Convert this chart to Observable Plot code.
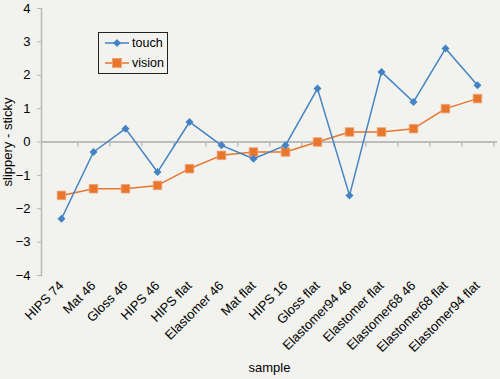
<!DOCTYPE html>
<html>
<head>
<meta charset="utf-8">
<script src="https://cdn.jsdelivr.net/npm/d3@7"></script>
<script src="https://cdn.jsdelivr.net/npm/@observablehq/plot@0.6"></script>
<style>
  html, body { margin: 0; padding: 0; background: #f2f2ee; }
  #wrap { position: relative; width: 500px; height: 379px; font-family: Arial, "Liberation Sans", sans-serif; }
  #legend { position: absolute; left: 98px; top: 32px; width: 68px; height: 40px; border: 1px solid #222; background: #f2f2ee; font-size: 12.5px; color: #000; }
  #legend .row { position: absolute; left: 6px; display: flex; align-items: center; }
  #legend svg { margin-right: 3px; }
</style>
</head>
<body>
<div id="wrap"></div>
<script>
const samples = ["HIPS 74","Mat 46","Gloss 46","HIPS 46","HIPS flat","Elastomer 46","Mat flat","HIPS 16","Gloss flat","Elastomer94 46","Elastomer flat","Elastomer68 46","Elastomer68 flat","Elastomer94 flat"];
const touch  = [-2.3,-0.3,0.4,-0.9,0.6,-0.1,-0.5,-0.1,1.6,-1.6,2.1,1.2,2.8,1.7];
const vision = [-1.6,-1.4,-1.4,-1.3,-0.8,-0.4,-0.3,-0.3,0.0,0.3,0.3,0.4,1.0,1.3];
const yTicks = [-4,-3,-2,-1,0,1,2,3,4];
const seriesNames = ["touch","vision"];
const seriesColors = ["#4383c4","#e8762d"];

const touchData = samples.map((s,i)=>({sample:s, value:touch[i]}));
const visionData = samples.map((s,i)=>({sample:s, value:vision[i]}));

const W = 500, H = 379, mL = 41, mR = 3;
const step = (W - mL - mR) / samples.length;

const chart = Plot.plot({
  width: W, height: H,
  marginLeft: mL, marginRight: mR, marginTop: 8, marginBottom: 104,
  style: {background: "transparent", fontFamily: "Arial, 'Liberation Sans', sans-serif", fontSize: "12px", color: "#000"},
  x: {type: "point", domain: samples, padding: 0.5},
  y: {domain: [-4,4]},
  marks: [
    Plot.frame({anchor: "left", stroke: "#b8b8b8", strokeWidth: 1.5}),
    Plot.ruleY([0], {stroke: "#bdbdbd", strokeWidth: 1.8}),
    Plot.ruleX(samples, {x: d=>d, dx: step/2, y1: 0, y2: -0.15, stroke: "#bdbdbd", strokeWidth: 1.5}),
    Plot.axisY({ticks: yTicks, tickSize: 4, tickPadding: 7, stroke: "#b8b8b8", fontSize: 13, label: "slippery - sticky", labelArrow: false, labelAnchor: "center", labelOffset: 39}),
    Plot.axisX({tickSize: 0, tickRotate: -45, tickPadding: 8, fontSize: 13, label: "sample", labelArrow: false, labelAnchor: "center", labelOffset: 96}),
    Plot.line(visionData, {x: "sample", y: "value", stroke: seriesColors[1], strokeWidth: 1.5}),
    Plot.line(touchData, {x: "sample", y: "value", stroke: seriesColors[0], strokeWidth: 1.5}),
    Plot.dot(visionData, {x: "sample", y: "value", symbol: "square", r: 4.8, fill: seriesColors[1], stroke: "#f0a070", strokeWidth: 0.8}),
    Plot.dot(touchData, {x: "sample", y: "value", symbol: "square", rotate: 45, r: 3.2, fill: seriesColors[0]})
  ]
});
const wrap = document.getElementById("wrap");
wrap.appendChild(chart);

const legend = document.createElement("div");
legend.id = "legend";
seriesNames.forEach((name, i) => {
  const row = document.createElement("div");
  row.className = "row";
  row.style.top = (i === 0 ? 2 : 22) + "px";
  const sym = i === 0
    ? `<path d="M12,4 L16,8 L12,12 L8,8 Z" fill="${seriesColors[0]}"/>`
    : `<rect x="7.5" y="3.5" width="9" height="9" fill="${seriesColors[1]}" stroke="#f0a070" stroke-width="0.8"/>`;
  row.innerHTML = `<svg width="24" height="16"><line x1="0" y1="8" x2="24" y2="8" stroke="${seriesColors[i]}" stroke-width="1.5"/>${sym}</svg><span>${name}</span>`;
  legend.appendChild(row);
});
wrap.appendChild(legend);
</script>
</body>
</html>
